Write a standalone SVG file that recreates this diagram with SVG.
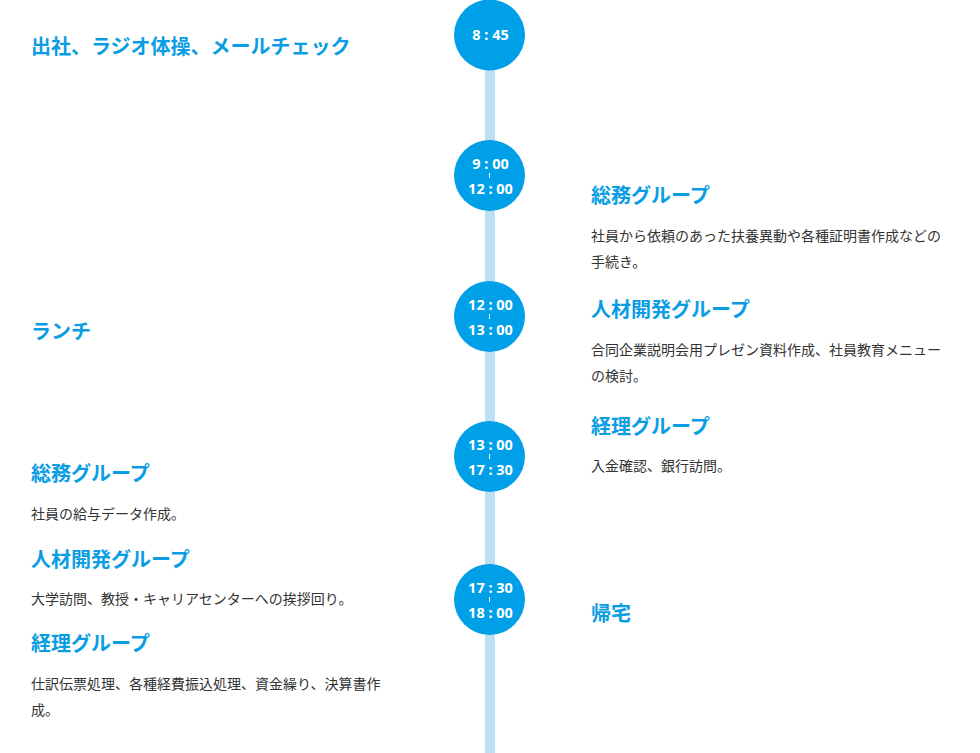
<svg xmlns="http://www.w3.org/2000/svg" width="980" height="753" viewBox="0 0 980 753">
<style>
.h{font-family:"Noto Sans CJK JP","Noto Sans",sans-serif;font-weight:bold;font-size:20px;fill:#0a9de3}
.b{font-family:"Noto Sans CJK JP","Noto Sans",sans-serif;font-size:14px;fill:#333}
.c{fill:#00a0e9}
.t{font-family:"Noto Sans","Open Sans",sans-serif;font-weight:bold;font-size:14.5px;fill:#fff;text-anchor:middle}
.tick{stroke:#fff;stroke-width:1}
</style>
<rect width="980" height="753" fill="#fff"/>
<g id="connectors">
<rect x="485" y="50" width="10" height="703" fill="#bedff3"/>
</g>
<g id="t1"><circle class="c" cx="489.5" cy="35" r="35.5"/><text class="t" x="490.5" y="40" xml:space="preserve">8 : 45</text></g>
<g id="t2"><circle class="c" cx="489.5" cy="175.5" r="35.5"/><text class="t" x="490.5" y="168.5" xml:space="preserve">9 : 00</text><line class="tick" x1="489.5" y1="173" x2="489.5" y2="178"/><text class="t" x="490.5" y="193.5" xml:space="preserve">12 : 00</text></g>
<g id="t3"><circle class="c" cx="489.5" cy="316.5" r="35.5"/><text class="t" x="490.5" y="309.5" xml:space="preserve">12 : 00</text><line class="tick" x1="489.5" y1="314" x2="489.5" y2="319"/><text class="t" x="490.5" y="334.5" xml:space="preserve">13 : 00</text></g>
<g id="t4"><circle class="c" cx="489.5" cy="456.5" r="35.5"/><text class="t" x="490.5" y="449.5" xml:space="preserve">13 : 00</text><line class="tick" x1="489.5" y1="454" x2="489.5" y2="459"/><text class="t" x="490.5" y="474.5" xml:space="preserve">17 : 30</text></g>
<g id="t5"><circle class="c" cx="489.5" cy="599.5" r="35.5"/><text class="t" x="490.5" y="592.5" xml:space="preserve">17 : 30</text><line class="tick" x1="489.5" y1="597" x2="489.5" y2="602"/><text class="t" x="490.5" y="617.5" xml:space="preserve">18 : 00</text></g>
<g id="l1"><text class="h" x="31" y="54">出社、ラジオ体操、メールチェック</text></g>
<g id="r1"><text class="h" x="591" y="203">総務グループ</text>
<text class="b" x="591" y="241">社員から依頼のあった扶養異動や各種証明書作成などの</text>
<text class="b" x="591" y="267">手続き。</text></g>
<g id="r2"><text class="h" x="591" y="317">人材開発グループ</text>
<text class="b" x="591" y="355">合同企業説明会用プレゼン資料作成、社員教育メニュー</text>
<text class="b" x="591" y="381">の検討。</text></g>
<g id="r3"><text class="h" x="591" y="434">経理グループ</text>
<text class="b" x="591" y="471">入金確認、銀行訪問。</text></g>
<g id="r4"><text class="h" x="591" y="621">帰宅</text></g>
<g id="l2"><text class="h" x="31" y="339">ランチ</text></g>
<g id="l3"><text class="h" x="31" y="481">総務グループ</text>
<text class="b" x="31" y="519">社員の給与データ作成。</text></g>
<g id="l4"><text class="h" x="31" y="567">人材開発グループ</text>
<text class="b" x="31" y="604">大学訪問、教授・キャリアセンターへの挨拶回り。</text></g>
<g id="l5"><text class="h" x="31" y="651">経理グループ</text>
<text class="b" x="31" y="689">仕訳伝票処理、各種経費振込処理、資金繰り、決算書作</text>
<text class="b" x="31" y="715">成。</text></g>
</svg>
